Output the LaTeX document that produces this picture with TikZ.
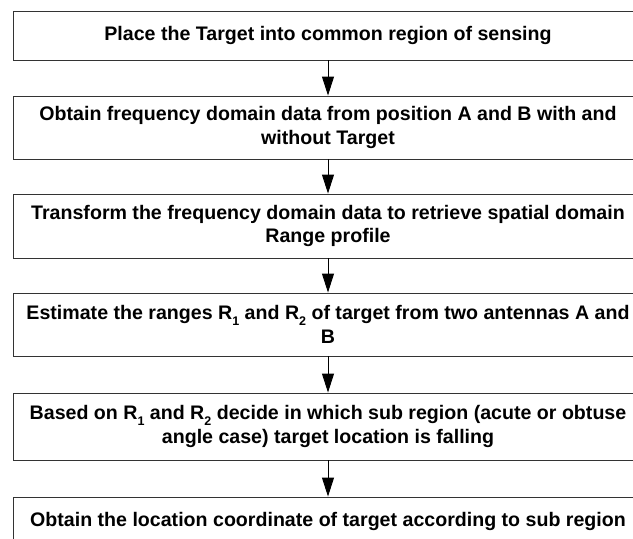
\documentclass[tikz,border=0pt]{standalone}
\usepackage{fontspec}
\setmainfont{Liberation Sans}
\usetikzlibrary{arrows.meta}
\newcommand{\lowsub}[1]{\raisebox{-0.3em}{\fontsize{12.5}{12.5}\selectfont #1}}
\tikzset{
  stepbox/.style={draw=black!80, line width=0.9pt, rectangle, minimum width=630pt,
    align=center, inner sep=0pt, font=\bfseries\fontsize{19.6}{23.5}\selectfont},
  flow/.style={draw=black, line width=0.9pt, -{Triangle[width=12pt,length=19pt]}}
}
\begin{document}
\begin{tikzpicture}[x=1pt,y=1pt]
  \useasboundingbox (0,0) rectangle (633,-539);
  \clip (0,0) rectangle (633,-539);
  \node[stepbox, minimum height=49pt] (s1) at (328,-35.5) {Place the Target into common region of sensing};
  \node[stepbox, minimum height=63pt] (s2) at (328,-127.5) {Obtain frequency domain data from position A and B with and\\without Target};
  \node[stepbox, minimum height=64pt] (s3) at (328,-226) {Transform the frequency domain data to retrieve spatial domain\\Range profile};
  \node[stepbox, minimum height=63pt] (s4) at (328,-324.5) {Estimate the ranges R\lowsub{1} and R\lowsub{2} of target from two antennas A and\\B};
  \node[stepbox, minimum height=67pt] (s5) at (328,-426.5) {Based on R\lowsub{1} and R\lowsub{2} decide in which sub region (acute or obtuse\\angle case) target location is falling};
  \node[stepbox, minimum height=49pt] (s6) at (328,-521.5) {Obtain the location coordinate of target according to sub region};
  \draw[flow] (s1) -- (s2);
  \draw[flow] (s2) -- (s3);
  \draw[flow] (s3) -- (s4);
  \draw[flow] (s4) -- (s5);
  \draw[flow] (s5) -- (s6);
\end{tikzpicture}
\end{document}
